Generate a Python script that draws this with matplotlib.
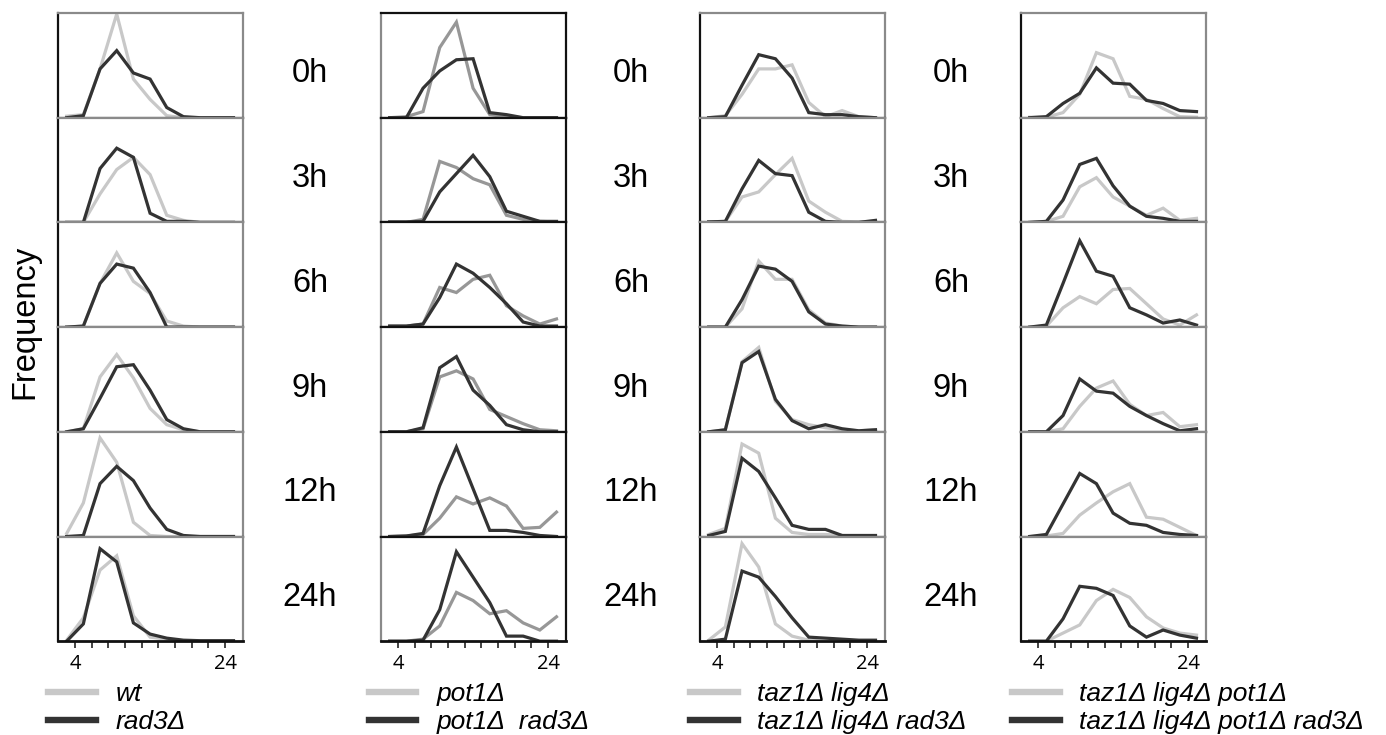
import matplotlib
matplotlib.use("Agg")
import matplotlib.pyplot as plt
import numpy as np

plt.rcParams['font.family'] = ['Liberation Sans', 'DejaVu Sans']

times = ["0h", "3h", "6h", "9h", "12h", "24h"]
bins = np.arange(11)
tick_pos = np.arange(10) + 0.5
tick_labels = ["4", "", "", "", "", "", "", "", "", "24"]

# column 1: wt / rad3
wt = [
    [1.5, 3, 48, 102, 38, 18, 2, 0, 0, 0, 0],
    [0, 0, 28, 52, 64, 47, 7, 2, 0, 0, 0],
    [0, 1, 43, 73, 45, 33, 6, 1, 0, 0, 0],
    [0, 3, 54, 76, 53, 23, 7, 2, 0, 0, 0],
    [3, 33, 97, 73, 14, 1, 0, 0, 0, 0, 0],
    [1, 23, 70, 84, 25, 4, 2, 0, 0, 0, 0],
]
rad3 = [
    [0, 2, 48, 66, 44, 38, 10, 1, 0, 0, 0],
    [0, 0, 53, 73, 64, 9, 1, 1, 0, 0, 0],
    [0, 1, 43, 62, 58, 34, 0, 0, 0, 0, 0],
    [0, 3, 33, 64, 66, 41, 12, 3, 0, 0, 0],
    [0, 1, 52, 69, 55, 28, 7, 1, 0, 0, 0],
    [0, 17, 91, 78, 18, 7, 3, 1, 0.5, 0.5, 0.5],
]

# column 2: pot1 / pot1 rad3
pot1 = [
    [0, 1, 6, 69, 94, 29, 3, 1, 0, 0, 0],
    [0, 0, 3, 60, 54, 43, 37, 7, 3, 1, 0.5],
    [1, 1, 3, 39, 34, 47, 51, 21, 11, 3, 8],
    [0, 0, 3, 54, 60, 52, 22, 15, 8, 2, 1],
    [0, 0.5, 2, 18, 39, 32, 38, 30, 8, 9, 24],
    [0, 0, 2, 15, 48, 40, 27, 30, 18, 11, 24],
]
pot1_rad3 = [
    [0, 0, 29, 46, 57, 58, 5, 3, 0, 0, 0],
    [0.5, 0.5, 1, 30, 48, 66, 45, 11, 6, 1, 1],
    [1, 1, 3, 29, 62, 53, 39, 23, 5, 1, 1],
    [0, 0, 4, 63, 74, 41, 26, 7, 2, 0, 0],
    [0, 0.5, 3, 50, 88, 47, 6, 6, 4, 1, 0],
    [0, 0, 1, 31, 88, 63, 38, 5, 5, 0, 0],
]

# column 3: taz1 lig4 / taz1 lig4 rad3
tl = [
    [0, 2, 23, 48, 48, 52, 15, 1, 7, 1, 0],
    [0.5, 1, 25, 30, 47, 63, 21, 10, 1, 0.5, 0.5],
    [0, 0, 18, 65, 47, 47, 17, 4, 1, 0, 0],
    [0, 2, 69, 83, 30, 12, 7, 4, 2, 1, 2],
    [2, 8, 91, 82, 18, 4, 2, 2, 1, 0, 0],
    [1, 14, 96, 73, 17, 5, 1, 0, 0, 0, 0],
]
tl_rad3 = [
    [0, 1, 32, 62, 58, 39, 5, 3, 3, 1, 0],
    [0.5, 1, 33, 61, 48, 46, 10, 1, 0, 0, 2],
    [0, 0, 27, 60, 57, 45, 15, 3, 1, 0, 0],
    [0, 2, 68, 79, 32, 11, 3, 7, 3, 1, 2],
    [1, 5, 77, 64, 38, 11, 7, 7, 1, 1, 1],
    [0, 2, 69, 63, 44, 23, 4, 3, 2, 1, 1],
]

# column 4: taz1 lig4 pot1 / taz1 lig4 pot1 rad3
tlp = [
    [0.5, 0.5, 5, 23, 64, 58, 21, 18, 9, 1, 0.5],
    [0, 1, 6, 35, 44, 25, 16, 7, 14, 2, 4],
    [0, 1, 19, 30, 23, 37, 38, 23, 8, 2, 12],
    [0, 0, 3, 25, 43, 50, 27, 16, 19, 5, 7],
    [0, 0.5, 3, 21, 33, 44, 52, 19, 17, 9, 1],
    [0, 0, 8, 16, 40, 51, 43, 24, 13, 8, 6],
]
tlp_rad3 = [
    [0, 1, 14, 24, 49, 34, 33, 17, 14, 7, 6],
    [0, 1, 22, 57, 63, 36, 16, 6, 4, 1, 1],
    [0, 2, 43, 85, 55, 50, 19, 12, 4, 7, 2],
    [0, 0, 16, 52, 40, 38, 25, 16, 8, 1, 3],
    [0, 2, 32, 62, 52, 23, 13, 11, 4, 2, 1],
    [0, 0, 22, 54, 52, 45, 15, 4, 11, 6, 3],
]

columns = [
    (wt, rad3, "wt", "rad3Δ", "#c8c8c8"),
    (pot1, pot1_rad3, "pot1Δ", "pot1Δ  rad3Δ", "#979797"),
    (tl, tl_rad3, "taz1Δ lig4Δ", "taz1Δ lig4Δ rad3Δ", "#c8c8c8"),
    (tlp, tlp_rad3, "taz1Δ lig4Δ pot1Δ", "taz1Δ lig4Δ pot1Δ rad3Δ", "#c8c8c8"),
]

W, H = 1386, 735
fig = plt.figure(figsize=(W / 100, H / 100), dpi=100)

col_left = [58, 381, 700, 1021]
col_w = 185
top = 13
row_h = 104.7
label_x = [310, 631, 951]
legend_x = [48, 369, 690, 1012]
dark = "#333333"

for c, (light_data, dark_data, light_name, dark_name, light_col) in enumerate(columns):
    for r in range(6):
        y0 = H - (top + (r + 1) * row_h)
        ax = fig.add_axes([col_left[c] / W, y0 / H, col_w / W, row_h / H])
        ax.plot(bins, light_data[r], color=light_col, lw=2.3, solid_joinstyle='miter')
        ax.plot(bins, dark_data[r], color=dark, lw=2.3, solid_joinstyle='miter')
        ax.set_xlim(-0.52, 10.57)
        ax.set_ylim(0, 103)
        ax.set_yticks([])
        for s in ax.spines.values():
            s.set_linewidth(1.6)
            s.set_color("#8a8a8a")
        if c == 1:
            ax.spines['right'].set_color("#111111")
            ax.spines['top'].set_color("#111111")
        else:
            ax.spines['left'].set_color("#111111")
        if r == 5:
            ax.spines['bottom'].set_color("#111111")
            ax.spines['bottom'].set_linewidth(2)
            ax.set_xticks(tick_pos)
            ax.set_xticklabels(tick_labels, fontsize=14.5, family=['Open Sans', 'DejaVu Sans'])
            ax.tick_params(axis='x', direction='out', length=5, width=1.2,
                           color="#222222", pad=4)
        else:
            ax.spines['bottom'].set_color("#333333")
            ax.set_xticks([])
        if c < 3:
            fig.text(label_x[c] / W, 1 - (top + r * row_h + 61) / H, times[r],
                     ha='center', va='center', fontsize=23.5)
        if r == 5:
            h1, = ax.plot([], [], color="#c8c8c8", lw=4.6)
            h2, = ax.plot([], [], color=dark, lw=4.6)
            leg = fig.legend([h1, h2], [light_name, dark_name], loc='upper left',
                             bbox_to_anchor=(legend_x[c] / W, 1 - 682 / H),
                             frameon=False, borderpad=0, borderaxespad=0,
                             handlelength=1.8, handletextpad=0.75,
                             labelspacing=0.15, prop={'size': 19, 'style': 'italic'})

fig.text(25 / W, 1 - 322 / H, "Frequency", rotation=90, ha='center', va='center',
         fontsize=23.5)

fig.savefig("out.png", dpi=100)
